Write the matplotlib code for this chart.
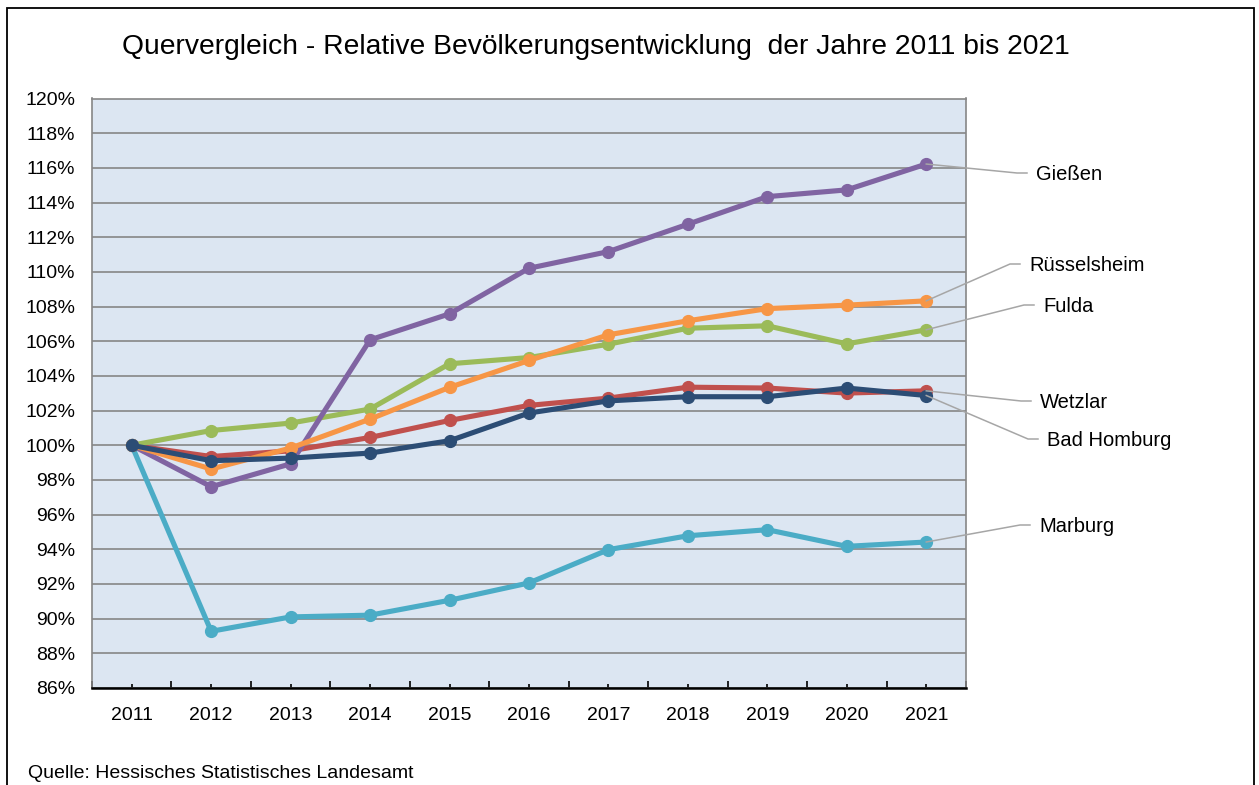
import numpy as np
import matplotlib
matplotlib.use('Agg')
import matplotlib.pyplot as plt
from matplotlib.lines import Line2D
from matplotlib.patches import Rectangle

plt.rcParams['font.family'] = ['Liberation Sans', 'DejaVu Sans']

# Daten (Index 2011 = 100 %)
jahre = ['2011', '2012', '2013', '2014', '2015', '2016', '2017', '2018', '2019', '2020', '2021']
wetzlar = [100.0, 99.35, 99.68, 100.45, 101.43, 102.3, 102.72, 103.35, 103.3, 103.01, 103.14]
fulda = [100.0, 100.85, 101.28, 102.09, 104.7, 105.06, 105.83, 106.75, 106.89, 105.85, 106.66]
giessen = [100.0, 97.61, 98.93, 106.08, 107.58, 110.21, 111.17, 112.75, 114.34, 114.73, 116.22]
marburg = [100.0, 89.27, 90.1, 90.2, 91.06, 92.06, 93.98, 94.78, 95.13, 94.17, 94.42]
ruesselsheim = [100.0, 98.63, 99.84, 101.51, 103.34, 104.89, 106.37, 107.18, 107.88, 108.08, 108.33]
bad_homburg = [100.0, 99.11, 99.26, 99.55, 100.26, 101.86, 102.56, 102.8, 102.8, 103.3, 102.87]

serien = [
    ('Wetzlar', wetzlar, '#C0504D'),
    ('Fulda', fulda, '#9BBB59'),
    ('Gießen', giessen, '#8064A2'),
    ('Marburg', marburg, '#4BACC6'),
    ('Rüsselsheim', ruesselsheim, '#F79646'),
    ('Bad Homburg', bad_homburg, '#2C4D75'),
]

# Beschriftungen rechts (Pixel, von oben links)
label_pos = {
    'Gießen': (1036, 175),
    'Rüsselsheim': (1029, 266),
    'Fulda': (1043, 307),
    'Wetzlar': (1040, 403),
    'Bad Homburg': (1047, 441),
    'Marburg': (1039, 527),
}

W, H = 1259, 785
fig = plt.figure(figsize=(W / 100, H / 100), dpi=100)
fig.patch.set_facecolor('white')

ax = fig.add_axes([92 / W, 1 - 688 / H, (966 - 92) / W, (688 - 98.5) / H])
ax.set_facecolor('#DCE6F2')

x = np.arange(len(jahre))
for name, werte, farbe in serien:
    ax.plot(x, werte, color=farbe, linewidth=3.7, marker='o', markersize=8.5,
            solid_joinstyle='round', zorder=3)

ax.set_xlim(-0.5, len(jahre) - 0.5)
ax.set_ylim(86, 120)
ax.set_yticks(np.arange(86, 121, 2))
ax.set_yticklabels([f'{v}%' for v in range(86, 121, 2)], fontsize=14)
ax.set_xticks(x)
ax.set_xticklabels(jahre, fontsize=14)
ax.set_xticks(np.arange(-0.5, len(jahre), 1), minor=True)

ax.grid(axis='y', color='#868686', linewidth=1.2, zorder=1)
ax.set_axisbelow(True)
ax.tick_params(axis='y', length=0, pad=12)
ax.tick_params(axis='x', which='major', direction='in', length=3, width=1.2, pad=14, color='black')
ax.tick_params(axis='x', which='minor', direction='in', length=5, width=1.2, color='black')

for s in ['left', 'top', 'right']:
    ax.spines[s].set_color('#868686')
    ax.spines[s].set_linewidth(1.2)
ax.spines['bottom'].set_color('black')
ax.spines['bottom'].set_linewidth(1.8)

fig.canvas.draw()

# Führungslinien und Namen
for name, werte, farbe in serien:
    tx, ty = label_pos[name]
    px, py = ax.transData.transform((len(jahre) - 1, werte[-1]))
    ly = H - ty + 2
    pts = [(px, py), (tx - 19, ly), (tx - 9, ly)]
    xs = [p[0] / W for p in pts]
    ys = [p[1] / H for p in pts]
    fig.add_artist(Line2D(xs, ys, color='#A6A6A6', linewidth=1.1, transform=fig.transFigure, zorder=5))
    fig.text(tx / W, 1 - ty / H, name, fontsize=14.5, va='center', ha='left')

fig.text(596 / W, 1 - 47 / H,
         'Quervergleich - Relative Bevölkerungsentwicklung  der Jahre 2011 bis 2021',
         fontsize=20.3, ha='center', va='center')
fig.text(28 / W, 1 - 773 / H, 'Quelle: Hessisches Statistisches Landesamt',
         fontsize=14, ha='left', va='center')

fig.add_artist(Rectangle((7 / W, -0.05), (1254 - 7) / W, (H - 8) / H + 0.05,
                         transform=fig.transFigure, fill=False, edgecolor='black', linewidth=1.3))

fig.savefig('out.png', dpi=100)
